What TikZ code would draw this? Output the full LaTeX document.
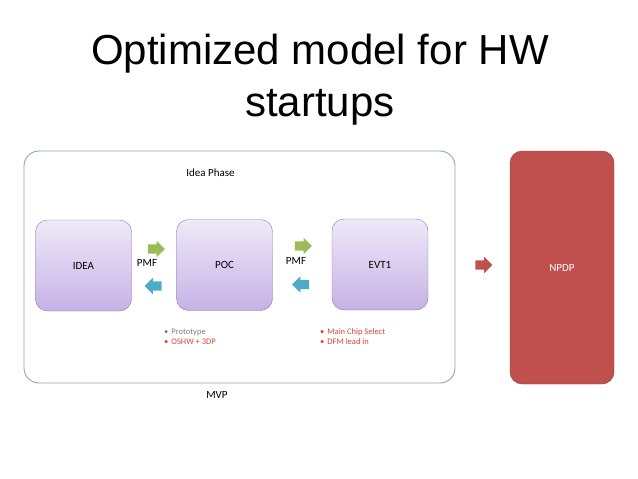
\documentclass[tikz,border=0pt]{standalone}
\usepackage{fontspec}
\setmainfont{Carlito}
\newfontfamily\titlefont{Liberation Sans}
\usetikzlibrary{shapes.arrows}

\definecolor{phaseedge}{HTML}{8AA2C0}
\definecolor{stagetop}{HTML}{EFE9F8}
\definecolor{stagebottom}{HTML}{C5B2E6}
\definecolor{stageedge}{HTML}{8D7AA6}
\definecolor{pmfgreen}{HTML}{9BBB59}
\definecolor{backblue}{HTML}{4BACC6}
\definecolor{npdpred}{HTML}{C0504D}
\definecolor{npdpedge}{HTML}{8C3A38}
\definecolor{notered}{HTML}{D8423C}

\tikzset{
  stagebox/.style={draw=stageedge, rounded corners=12pt, top color=stagetop,
    bottom color=stagebottom, minimum width=96pt, minimum height=91pt,
    font=\fontsize{11}{13}\selectfont},
  flowarrow/.style={single arrow, inner xsep=0pt, inner ysep=4.5pt, minimum height=17pt,
    single arrow head extend=3.5pt},
  fwd/.style={flowarrow, fill=pmfgreen},
  back/.style={flowarrow, fill=backblue, shape border rotate=180},
  small/.style={font=\fontsize{11}{13}\selectfont},
  note/.style={anchor=west, font=\fontsize{8.5}{10}\selectfont, inner sep=0pt},
}

\begin{document}
\begin{tikzpicture}[x=1pt, y=-1pt]
    \useasboundingbox (0,0) rectangle (638,479);

    \node[font=\titlefont\fontsize{42}{52}\selectfont, align=center] (title) at (320,80)
        {Optimized model for HW\\startups};

    % phases
    \node[draw=phaseedge, line width=0.9pt, rounded corners=15pt,
        minimum width=431pt, minimum height=232pt] (mvp) at (239.5,267) {};
    \node[draw=npdpedge, fill=npdpred, rounded corners=12pt, minimum width=104pt,
        minimum height=233pt, text=white, small] (npdp) at (562,267.5) {NPDP};

    \node[small] (phase) at (210.5,173) {Idea Phase};
    \node[small] (mvplabel) at (217,395) {MVP};

    % stages
    \node[stagebox] (idea) at (83.5,265.5) {IDEA};
    \node[stagebox] (poc) at (224.5,265) {POC};
    \node[stagebox] (evt) at (380,264.5) {EVT1};

    \node[fwd] (go1) at (154,249) {};
    \node[back] (ret1) at (155.5,286) {};
    \node[small] (pmf1) at (147,262.5) {PMF};
    \node[fwd] (go2) at (301,246) {};
    \node[back] (ret2) at (303,284.5) {};
    \node[small] (pmf2) at (296,260.5) {PMF};
    \node[flowarrow, fill=npdpred] (go3) at (481.5,265) {};

    % notes
    \node[note, text=gray] (proto) at (164,332) {\textbullet\hspace{3pt}Prototype};
    \node[note, text=notered] (oshw) at (164,342) {\textbullet\hspace{3pt}OSHW + 3DP};
    \node[note, text=notered] (chip) at (320,332) {\textbullet\hspace{3pt}Main Chip Select};
    \node[note, text=notered] (dfm) at (320,342) {\textbullet\hspace{3pt}DFM lead in};
\end{tikzpicture}
\end{document}
